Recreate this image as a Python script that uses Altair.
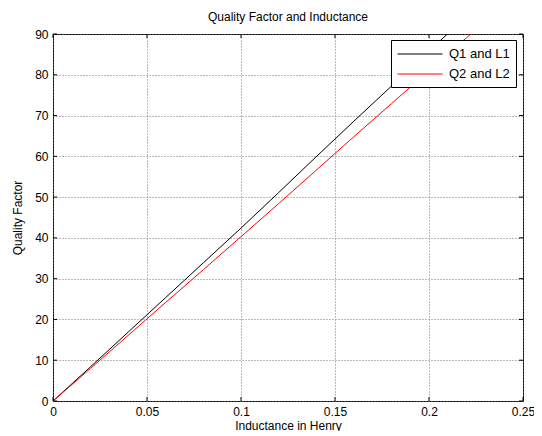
import altair as alt
import pandas as pd

# Data
L = [0, 0.02, 0.04, 0.06, 0.08, 0.10, 0.12, 0.14, 0.16, 0.18, 0.20, 0.22, 0.24]
Q1 = [0, 8.4, 16.9, 25.4, 33.9, 42.4, 51.1, 59.9, 68.6, 77.2, 85.8, 94.4, 103.0]
Q2 = [0, 8.0, 16.1, 24.2, 32.2, 40.3, 48.4, 56.6, 64.8, 72.9, 81.0, 89.1, 97.2]
series = ["Q1 and L1", "Q2 and L2"]
x_ticks = [0, 0.05, 0.10, 0.15, 0.20, 0.25]
y_ticks = [0, 10, 20, 30, 40, 50, 60, 70, 80, 90]

rows = []
for s, q in zip(series, [Q1, Q2]):
    for l, v in zip(L, q):
        rows.append({"L": l, "Q": v, "series": s})
df = pd.DataFrame(rows)
xt = pd.DataFrame({"L": x_ticks})
yt = pd.DataFrame({"Q": y_ticks})

W, H = 470, 367
FONT = "Liberation Sans"
x_scale = alt.Scale(domain=[0, 0.25], nice=False, zero=False)
y_scale = alt.Scale(domain=[0, 90], nice=False)

x_axis = alt.Axis(values=x_ticks, format="~g", title="Inductance in Henry",
                  grid=True, gridDash=[1, 2], gridColor="#777", gridOpacity=1,
                  tickSize=0, labelPadding=5, domain=False, titlePadding=3,
                  labelFlush=False)
y_axis = alt.Axis(values=y_ticks, title="Quality Factor",
                  grid=True, gridDash=[1, 2], gridColor="#777", gridOpacity=1,
                  tickSize=0, labelPadding=5, domain=False, titlePadding=10)

lines = alt.Chart(df).mark_line(clip=True, strokeWidth=1).encode(
    x=alt.X("L:Q", scale=x_scale, axis=x_axis),
    y=alt.Y("Q:Q", scale=y_scale, axis=y_axis),
    color=alt.Color("series:N", scale=alt.Scale(domain=series, range=["black", "red"]),
                    legend=alt.Legend(title=None, orient="none", legendX=338, legendY=6,
                                      symbolType="M-1,0H5", symbolSize=225,
                                      symbolStrokeWidth=1, strokeColor="black",
                                      fillColor="white", padding=6, rowPadding=5,
                                      labelFont=FONT, labelFontSize=13, labelColor="black",
                                      labelOffset=36)),
)

tick_len = 4
bottom = alt.Chart(xt).mark_rule(color="black").encode(
    x=alt.X("L:Q", scale=x_scale, axis=x_axis), y=alt.value(H), y2=alt.value(H - tick_len))
top = alt.Chart(xt).mark_rule(color="black").encode(
    x=alt.X("L:Q", scale=x_scale, axis=x_axis), y=alt.value(0), y2=alt.value(tick_len))
left = alt.Chart(yt).mark_rule(color="black").encode(
    y=alt.Y("Q:Q", scale=y_scale, axis=y_axis), x=alt.value(0), x2=alt.value(tick_len))
right = alt.Chart(yt).mark_rule(color="black").encode(
    y=alt.Y("Q:Q", scale=y_scale, axis=y_axis), x=alt.value(W), x2=alt.value(W - tick_len))

chart = alt.layer(lines, bottom, top, left, right).properties(
    width=W, height=H,
    title=alt.TitleParams("Quality Factor and Inductance", font=FONT, fontSize=12,
                          fontWeight="normal", color="black", offset=4),
    autosize=alt.AutoSizeParams(type="none"),
    padding={"left": 45, "top": 26, "right": 11, "bottom": 30},
).configure_view(stroke="black", strokeWidth=1).configure_axis(
    labelFont=FONT, labelFontSize=12, labelColor="black",
    titleFont=FONT, titleFontSize=12, titleFontWeight="normal", titleColor="black",
)

chart.save("out.html", embed_options={"renderer": "svg", "actions": False})
